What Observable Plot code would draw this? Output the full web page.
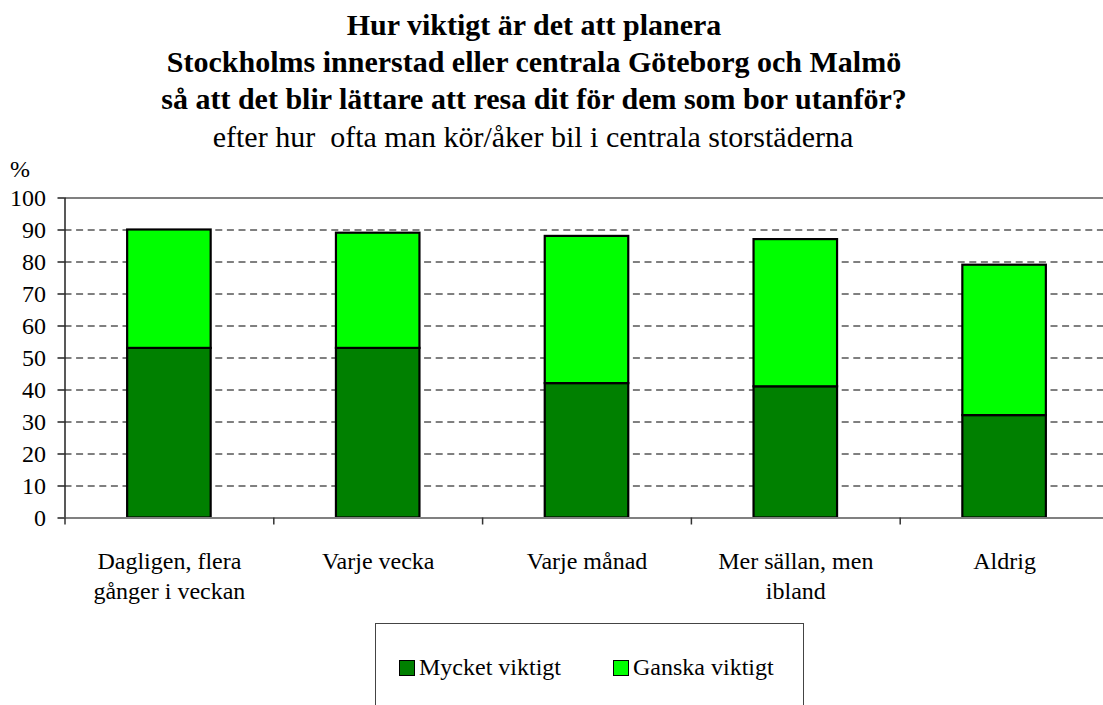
<!DOCTYPE html>
<html>
<head>
<meta charset="utf-8">
<script src="https://cdn.jsdelivr.net/npm/d3@7"></script>
<script src="https://cdn.jsdelivr.net/npm/@observablehq/plot@0.6"></script>
<style>
  html, body { margin: 0; padding: 0; background: #fff; }
  #wrap { position: relative; width: 1103px; height: 705px; overflow: hidden; font-family: "Liberation Serif", Tinos, "Times New Roman", Times, "Nimbus Roman", "DejaVu Serif", serif; color: #000; }
  .t { position: absolute; left: 0; width: 1068px; text-align: center; white-space: nowrap; font-size: 30px; line-height: 33px; }
  .b { font-weight: bold; }
  #pct { position: absolute; left: 10px; top: 156px; font-size: 24px; line-height: 27px; }
  #chart { position: absolute; left: 0; top: 0; }
  #legend { position: absolute; left: 375px; top: 623px; width: 427px; height: 120px; border: 1px solid #444; background: #fff; }
  .item { position: absolute; top: 30px; font-size: 24px; line-height: 27px; white-space: nowrap; }
  .sw { display: inline-block; width: 14px; height: 14px; border: 1.5px solid #000; margin-right: 4px; vertical-align: -1px; }
</style>
</head>
<body>
<div id="wrap">
  <div id="chart"></div>
  <div class="t b" style="top:8px">Hur viktigt är det att planera</div>
  <div class="t b" style="top:45px">Stockholms innerstad eller centrala Göteborg och Malmö</div>
  <div class="t b" style="top:81.5px">så att det blir lättare att resa dit för dem som bor utanför?</div>
  <div class="t" style="top:120px; width:1066px">efter hur&nbsp; ofta man kör/åker bil i centrala storstäderna</div>
  <div id="pct">%</div>
  <div id="legend"></div>
</div>
<script>
// ---- data ----
const categories = ["Dagligen, flera\ngånger i veckan", "Varje vecka", "Varje månad", "Mer sällan, men\nibland", "Aldrig"];
const series = ["Mycket viktigt", "Ganska viktigt"];
const mycketViktigt = [53, 53, 42, 41, 32];
const ganskaViktigt = [37, 36, 46, 46, 47];
const yTicks = [0, 10, 20, 30, 40, 50, 60, 70, 80, 90, 100];
const colors = ["#008000", "#00ff00"];

// long table for the library
const rows = [];
categories.forEach((c, i) => {
  rows.push({cat: c, idx: i, series: series[0], value: mycketViktigt[i]});
  rows.push({cat: c, idx: i, series: series[1], value: ganskaViktigt[i]});
});
const boundaries = d3.range(categories.length + 1);
const font = "'Liberation Serif', Tinos, 'Times New Roman', Times, 'Nimbus Roman', 'DejaVu Serif', serif";

const chart = Plot.plot({
  width: 1103,
  height: 705,
  marginLeft: 64.5,
  marginRight: -5.5,
  marginTop: 197.5,
  marginBottom: 187.5,
  style: {fontFamily: font, fontSize: "24px", color: "#000", background: "transparent", overflow: "hidden"},
  x: {domain: [0, categories.length], axis: null, label: null},
  y: {domain: [0, 100], axis: null, label: null},
  color: {domain: series, range: colors},
  marks: [
    Plot.ruleY(yTicks.filter(d => d > 0 && d < 100), {stroke: "#000", strokeWidth: 1, strokeDasharray: "7,4.6"}),
    Plot.ruleY([100], {stroke: "#808080", strokeWidth: 2}),
    Plot.rectY(rows, Plot.stackY({
      x1: d => d.idx + 0.3,
      x2: d => d.idx + 0.7,
      y: "value",
      fill: "series",
      order: null,
      stroke: "#000",
      strokeWidth: 2.2
    })),
    Plot.ruleY([0], {stroke: "#808080", strokeWidth: 1.8}),
    Plot.ruleX([0], {stroke: "#222", strokeWidth: 1.5, y1: 0, y2: 100}),
    Plot.axisX({ticks: boundaries, tickSize: 7, tickFormat: () => "", stroke: "#333", strokeWidth: 1.5, label: null}),
    Plot.axisY({ticks: yTicks, tickSize: 7, tickPadding: 12, fontSize: 24, fontFamily: font, stroke: "#222", strokeWidth: 1.5, label: null}),
    Plot.text(categories, {
      x: (d, i) => i + 0.5,
      y: () => 0,
      text: d => d,
      dy: 29,
      lineAnchor: "top",
      lineHeight: 1.27,
      fontSize: 24,
      fontFamily: font,
      fill: "#000"
    })
  ]
});
document.getElementById("chart").appendChild(chart);

// legend
const legend = document.getElementById("legend");
const legendLeft = [23, 237];
series.forEach((s, i) => {
  const item = document.createElement("div");
  item.className = "item";
  item.style.left = legendLeft[i] + "px";
  const sw = document.createElement("span");
  sw.className = "sw";
  sw.style.background = colors[i];
  item.appendChild(sw);
  item.appendChild(document.createTextNode(s));
  legend.appendChild(item);
});
</script>
</body>
</html>
